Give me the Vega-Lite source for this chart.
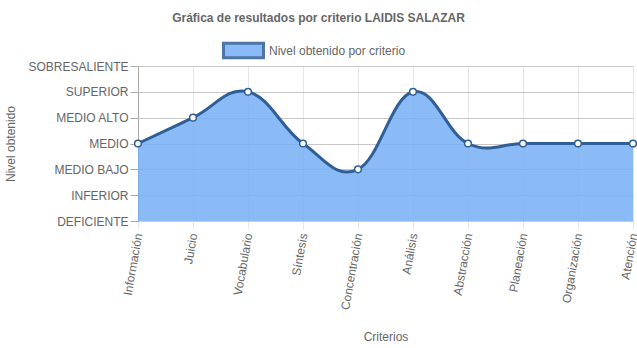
{
  "$schema": "https://vega.github.io/schema/vega-lite/v6.json",
  "width": 495,
  "height": 155,
  "autosize": "none",
  "padding": {"left": 138, "top": 66, "right": 4, "bottom": 127},
  "background": "white",
  "config": {"font": "Liberation Sans", "view": {"stroke": null}},
  "title": {
    "text": "Gráfica de resultados por criterio LAIDIS SALAZAR",
    "fontSize": 12,
    "fontWeight": "bold",
    "color": "#666666",
    "anchor": "middle",
    "dx": -67,
    "dy": 15,
    "offset": 19
  },
  "data": {
    "values": [
      {"criterio": "Información", "nivel": 3},
      {"criterio": "Juicio", "nivel": 4},
      {"criterio": "Vocabulario", "nivel": 5},
      {"criterio": "Síntesis", "nivel": 3},
      {"criterio": "Concentración", "nivel": 2},
      {"criterio": "Análisis", "nivel": 5},
      {"criterio": "Abstracción", "nivel": 3},
      {"criterio": "Planeación", "nivel": 3},
      {"criterio": "Organización", "nivel": 3},
      {"criterio": "Atención", "nivel": 3}
    ]
  },
  "encoding": {
    "x": {
      "field": "criterio",
      "type": "ordinal",
      "sort": null,
      "scale": {"type": "point", "padding": 0},
      "axis": {
        "title": "Criterios",
        "titleFontSize": 12,
        "titleFontWeight": "normal",
        "titleColor": "#666666",
        "titleY": 115,
        "titleBaseline": "middle",
        "labelAngle": -80,
        "labelAlign": "right",
        "labelBaseline": "middle",
        "labelFontSize": 12,
        "labelColor": "#666666",
        "labelPadding": 4,
        "tickSize": 8,
        "tickColor": "#e6e6e6",
        "grid": true,
        "gridColor": "#e6e6e6",
        "domain": true,
        "domainColor": "#cccccc"
      }
    },
    "y": {
      "field": "nivel",
      "type": "quantitative",
      "scale": {"domain": [0, 6], "nice": false, "zero": true},
      "axis": {
        "title": "Nivel obtenido",
        "titleFontSize": 12,
        "titleFontWeight": "normal",
        "titleColor": "#666666",
        "titleX": -128,
        "titleY": 77.5,
        "titleBaseline": "middle",
        "values": [0, 1, 2, 3, 4, 5, 6],
        "labelExpr": "['DEFICIENTE','INFERIOR','MEDIO BAJO','MEDIO','MEDIO ALTO','SUPERIOR','SOBRESALIENTE'][datum.value]",
        "labelFontSize": 12,
        "labelColor": "#666666",
        "labelPadding": 2,
        "tickSize": 8,
        "tickColor": "#aaaaaa",
        "grid": true,
        "gridColor": "#c8c8c8",
        "domainColor": "#aaaaaa"
      }
    }
  },
  "layer": [
    {
      "mark": {"type": "area", "interpolate": "cardinal", "tension": -0.2, "opacity": 0.85},
      "encoding": {
        "fill": {
          "datum": "Nivel obtenido por criterio",
          "type": "nominal",
          "scale": {"range": ["#76aff6"]},
          "legend": {
            "title": null,
            "orient": "none",
            "legendX": 84,
            "legendY": -37,
            "symbolType": "M-1,-0.36H1V0.36H-1Z",
            "symbolSize": 1600,
            "symbolStrokeColor": "#2f5f96",
            "symbolStrokeWidth": 3,
            "symbolOpacity": 0.85,
            "labelFontSize": 12,
            "labelColor": "#666666",
            "labelOffset": 4
          }
        }
      }
    },
    {
      "mark": {"type": "line", "interpolate": "cardinal", "tension": -0.2, "color": "#2f5f96", "strokeWidth": 3},
      "encoding": {}
    },
    {
      "mark": {"type": "point", "filled": true, "fill": "white", "stroke": "#2f5f96", "strokeWidth": 1.5, "size": 45, "opacity": 1},
      "encoding": {}
    }
  ]
}
